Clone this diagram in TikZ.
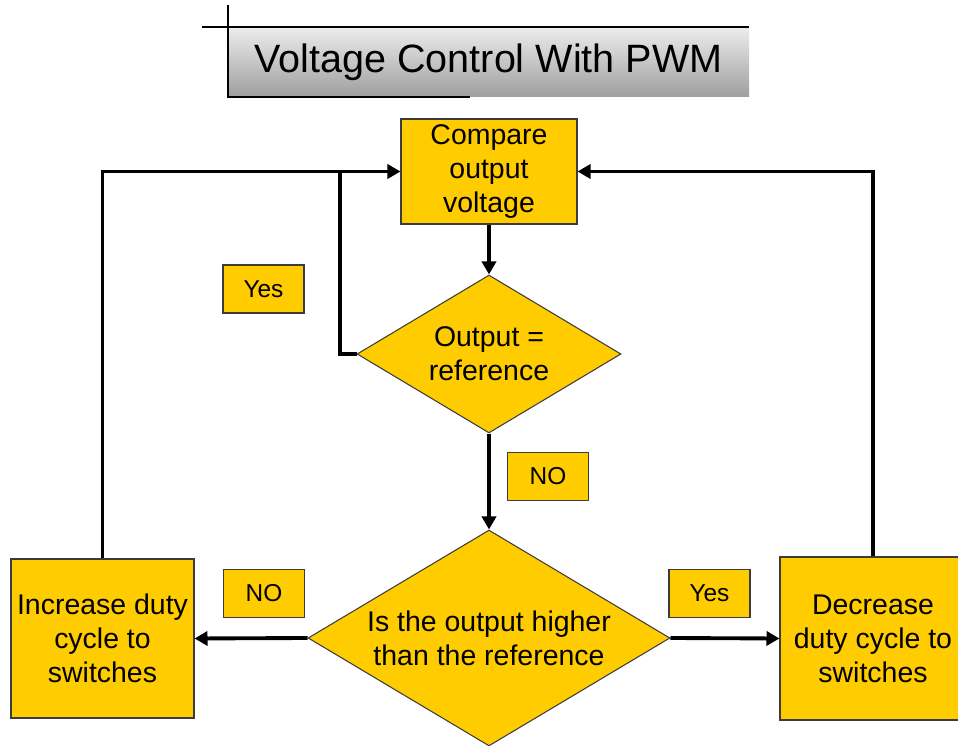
\documentclass[tikz,border=0pt]{standalone}
\usepackage{fontspec}
\setmainfont{Liberation Sans}
\usepackage{xcolor}
\usepackage{tikz}
\usetikzlibrary{arrows.meta, calc, positioning, shapes.geometric}

\definecolor{boxyellow}{RGB}{255,204,0}
\definecolor{boxedge}{RGB}{60,60,60}

\begin{document}
\begin{tikzpicture}[x=0.02cm, y=-0.02cm,
  procbox/.style={draw=boxedge, fill=boxyellow, line width=0.6pt, align=center,
    inner sep=0pt, font=\fontsize{16.2}{19.3}\selectfont},
  decision/.style={diamond, draw=boxedge, fill=boxyellow, line width=0.6pt, align=center,
    inner sep=0pt, aspect=1.67, font=\fontsize{16.2}{19.3}\selectfont},
  answer/.style={draw=boxedge, fill=boxyellow, line width=0.6pt, inner sep=0pt,
    minimum width=1.62cm, minimum height=0.96cm, font=\fontsize{13.9}{16}\selectfont},
  flow/.style={line width=2.2pt, -{Triangle[length=7.4pt, width=8pt]}}]

\useasboundingbox (0,0) rectangle (958,746);

% Title bar
\shade[top color=black!7, bottom color=black!38] (228,27) rectangle (749,97);
\draw[line width=0.6pt] (202,27) -- (749,27);
\draw[line width=0.6pt] (228,5) -- (228,97) -- (470,97);
\node[font=\fontsize{22.5}{26}\selectfont] (title) at (488.5,62) {Voltage Control With PWM};

% Boxes and decisions
\node[procbox, minimum width=3.52cm, minimum height=2.1cm] (cmp) at (489,171.5)
  {Compare\\output\\voltage};
\node[decision, minimum width=5.28cm, minimum height=3.16cm] (eq) at (489,354)
  {Output =\\reference};
\node[decision, minimum width=7.24cm, minimum height=4.32cm] (hi) at (489,638)
  {Is the output higher\\than the reference};
\node[procbox, minimum width=3.66cm, minimum height=3.18cm] (inc) at (102.5,638.5)
  {Increase duty\\cycle to\\switches};
\node[procbox, minimum width=3.72cm, minimum height=3.26cm] (dec) at (873,638.5)
  {Decrease\\duty cycle to\\switches};

% Answer labels
\node[answer] (yes1) at (263.5,289) {Yes};
\node[answer] (no1) at (548,476.5) {NO};
\node[answer] (no2) at (264,593.5) {NO};
\node[answer] (yes2) at (709.5,593.5) {Yes};

% Connectors
\coordinate (back) at (340,171.5);
\draw[flow] (cmp) -- (eq);
\draw[flow] (eq) -- (hi);
\draw[flow] (hi.west) -- (inc.east);
\draw[flow] (hi.east) -- (dec.west);
\draw[flow] (inc.north) |- (cmp.west);
\draw[flow] (dec.north) |- (cmp.east);
\draw[line width=2.2pt] (eq.west) -| (back);

\end{tikzpicture}
\end{document}
